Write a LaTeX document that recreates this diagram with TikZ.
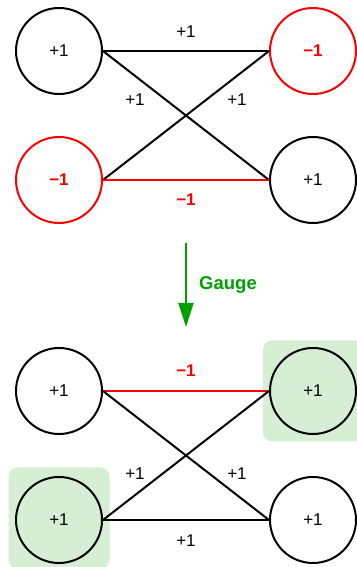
\documentclass[tikz,border=0pt]{standalone}
\usepackage{fontspec}
\setmainfont{Liberation Sans}
\usepackage{tikz}
\usetikzlibrary{arrows.meta,positioning}
\definecolor{signred}{HTML}{FF0000}
\definecolor{gaugegreen}{HTML}{00A000}
\definecolor{gaugefill}{HTML}{D5EED4}
\tikzset{
    spin/.style={circle, draw, line width=2pt, minimum size=86pt, inner sep=0pt, font=\fontsize{17}{20}\selectfont},
    spinneg/.style={spin, draw=signred, text=signred, font=\fontsize{17}{20}\selectfont\bfseries},
    flipbox/.style={rounded corners=9pt, fill=gaugefill, minimum size=101pt},
    coupling/.style={line width=2pt},
    couplingneg/.style={coupling, draw=signred},
    weight/.style={font=\fontsize{17}{20}\selectfont, inner sep=1pt},
    weightneg/.style={weight, text=signred, font=\fontsize{17}{20}\selectfont\bfseries}
}
\begin{document}
\begin{tikzpicture}[x=1pt, y=1pt]
    \useasboundingbox (0,0) rectangle (356,567);

    % before the gauge transformation
    \node[spin] (a1) at (59,516) {+1};
    \node[spinneg] (b1) at (313,516) {−1};
    \node[spinneg] (c1) at (59,387) {−1};
    \node[spin] (d1) at (313,387) {+1};

    \draw[coupling] (a1.east) -- (b1.west);
    \draw[coupling] (a1.east) -- (d1.west);
    \draw[coupling] (c1.east) -- (b1.west);
    \draw[couplingneg] (c1.east) -- (d1.west);

    \node[weight] (w1) at (186,535) {+1};
    \node[weight] (w2) at (135,467) {+1};
    \node[weight] (w3) at (237,467) {+1};
    \node[weightneg] (w4) at (186,367) {−1};

    % gauge arrow
    \coordinate (gtop) at (186,324);
    \coordinate (gbot) at (186,240);
    \draw[gaugegreen, line width=2pt, -{Triangle[length=24pt, width=15pt]}] (gtop) -- (gbot);
    \node[text=gaugegreen, font=\fontsize{18.5}{22}\selectfont\bfseries] (glabel) at (228,282) {Gauge};

    % after the gauge transformation
    \node[flipbox] (box2) at (313.5,176) {};
    \node[flipbox] (box3) at (59,49) {};

    \node[spin] (a2) at (59,176) {+1};
    \node[spin] (b2) at (313,176) {+1};
    \node[spin] (c2) at (59,47) {+1};
    \node[spin] (d2) at (313,47) {+1};

    \draw[couplingneg] (a2.east) -- (b2.west);
    \draw[coupling] (a2.east) -- (d2.west);
    \draw[coupling] (c2.east) -- (b2.west);
    \draw[coupling] (c2.east) -- (d2.west);

    \node[weightneg] (v1) at (186,196) {−1};
    \node[weight] (v2) at (135,93) {+1};
    \node[weight] (v3) at (237,93) {+1};
    \node[weight] (v4) at (186,26) {+1};
\end{tikzpicture}
\end{document}
